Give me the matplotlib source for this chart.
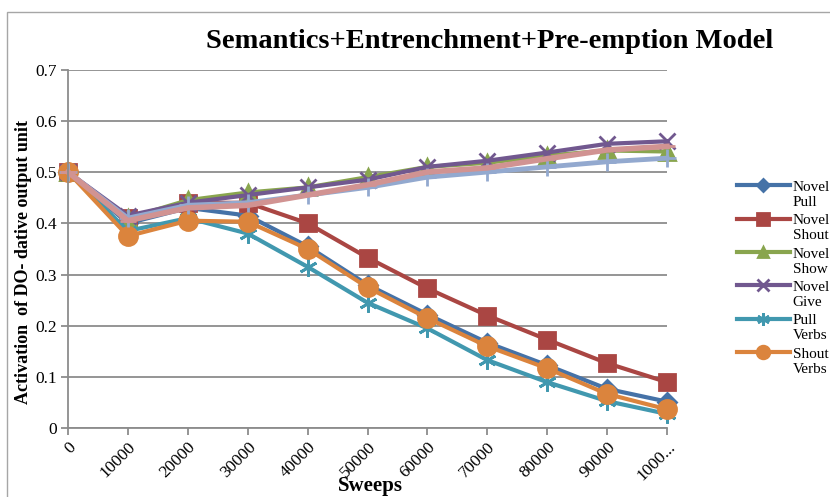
import matplotlib
matplotlib.use('Agg')
import matplotlib.pyplot as plt
from matplotlib.patches import Rectangle
from matplotlib.legend_handler import HandlerLine2D

sweeps = [0, 10000, 20000, 30000, 40000, 50000, 60000, 70000, 80000, 90000, 100000]
tick_labels = ['0', '10000', '20000', '30000', '40000', '50000', '60000',
               '70000', '80000', '90000', '1000...']

novel_pull = [0.5, 0.40, 0.43, 0.415, 0.355, 0.28, 0.222, 0.167, 0.123, 0.077, 0.052]
novel_shout = [0.5, 0.41, 0.44, 0.44, 0.40, 0.333, 0.273, 0.22, 0.173, 0.127, 0.09]
novel_show = [0.5, 0.41, 0.445, 0.46, 0.47, 0.49, 0.51, 0.518, 0.532, 0.542, 0.54]
novel_give = [0.5, 0.415, 0.44, 0.455, 0.47, 0.485, 0.51, 0.522, 0.538, 0.555, 0.56]
pull_verbs = [0.5, 0.385, 0.41, 0.38, 0.315, 0.245, 0.195, 0.133, 0.09, 0.053, 0.028]
shout_verbs = [0.5, 0.375, 0.405, 0.403, 0.35, 0.275, 0.215, 0.16, 0.117, 0.067, 0.037]
show_verbs = [0.5, 0.41, 0.435, 0.44, 0.455, 0.47, 0.49, 0.50, 0.51, 0.52, 0.527]
give_verbs = [0.5, 0.405, 0.43, 0.435, 0.455, 0.475, 0.50, 0.508, 0.526, 0.543, 0.55]

names = ['Novel\nPull', 'Novel\nShout', 'Novel\nShow', 'Novel\nGive',
         'Pull\nVerbs', 'Shout\nVerbs', 'Show\nVerbs', 'Give\nVerbs']
data = [novel_pull, novel_shout, novel_show, novel_give,
        pull_verbs, shout_verbs, show_verbs, give_verbs]
colors = ['#4572A7', '#AA4643', '#89A54E', '#71588F',
          '#4198AF', '#DB843D', '#93A9CF', '#D19392']
markers = ['D', 's', '^', 'x', (6, 2, 0), 'o', '+', '_']
msizes = [9, 12, 11, 12, 13, 13, 13, 12]
lws = [3, 3, 3, 3, 3, 3, 3.5, 4]

SERIF = 'Liberation Serif'


class UpHandler(HandlerLine2D):
    def create_artists(self, legend, orig_handle, xdescent, ydescent, width,
                       height, fontsize, trans):
        arts = super().create_artists(legend, orig_handle, xdescent, ydescent,
                                      width, height, fontsize, trans)
        for a in arts:
            a.set_ydata([y + 0.62 * fontsize for y in a.get_ydata()])
        return arts


fig = plt.figure(figsize=(8.3, 4.97), dpi=100)
ax = fig.add_axes([68/830, 1-428.3/497, (667-68)/830, (428.3-69.5)/497])

handles = []
for vals, nm, c, m, ms, lw in zip(data, names, colors, markers, msizes, lws):
    h, = ax.plot(sweeps, vals, color=c, lw=lw, marker=m, markersize=ms,
                 markerfacecolor=c, markeredgecolor=c, markeredgewidth=2,
                 label=nm, solid_joinstyle='round', clip_on=False)
    handles.append(h)

ax.set_xlim(0, 100000)
ax.set_ylim(0, 0.7)
ax.set_xticks(sweeps)
ax.set_xticklabels(tick_labels, rotation=45, ha='right', rotation_mode='anchor',
                   fontfamily=SERIF, fontsize=12.5)
yt = [0, 0.1, 0.2, 0.3, 0.4, 0.5, 0.6, 0.7]
ax.set_yticks(yt)
ax.set_yticklabels(['0', '0.1', '0.2', '0.3', '0.4', '0.5', '0.6', '0.7'],
                   fontfamily=SERIF, fontsize=12.5)
ax.grid(axis='y', color='#8c8c8c', lw=1.3)
ax.set_axisbelow(True)
for s in ['top', 'right']:
    ax.spines[s].set_visible(False)
for s in ['left', 'bottom']:
    ax.spines[s].set_color('#8c8c8c')
    ax.spines[s].set_linewidth(1.3)
ax.tick_params(axis='both', color='#8c8c8c', width=1.3, length=5, pad=3)

fig.text(490/830, 1-42/497, 'Semantics+Entrenchment+Pre-emption Model',
         ha='center', va='center', fontfamily=SERIF, fontweight='bold', fontsize=20.5)
fig.text(370/830, 1-486/497, 'Sweeps', ha='center', va='center',
         fontfamily=SERIF, fontweight='bold', fontsize=15)
fig.text(24/830, 1-262/497, 'Activation  of DO- dative output unit', rotation=90,
         ha='center', va='center', fontfamily=SERIF, fontweight='bold', fontsize=13)

leg = fig.legend(handles[:6], names[:6], loc='upper left',
                 bbox_to_anchor=(737/830, 1-181/497), frameon=False,
                 prop={'family': SERIF, 'size': 11}, handlelength=3.45,
                 handletextpad=0.2, labelspacing=0.35, borderaxespad=0, borderpad=0,
                 markerscale=0.7, handler_map={h: UpHandler() for h in handles[:6]})

fig.add_artist(Rectangle((7/830, -0.1), 1.2, 1-12/497+0.1, transform=fig.transFigure,
                         fill=False, edgecolor='#a6a6a6', lw=1))

fig.savefig('out.png', dpi=100)
